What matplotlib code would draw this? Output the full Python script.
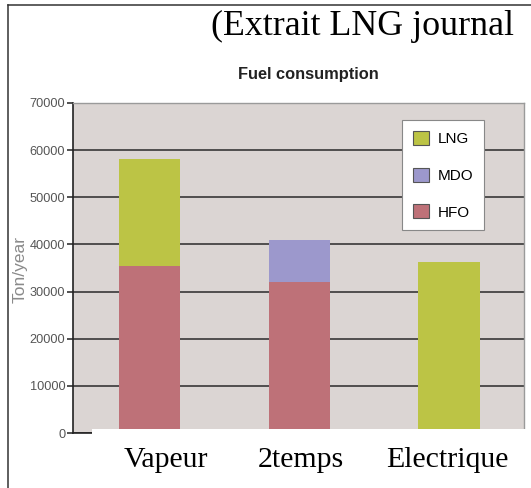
import numpy as np
import matplotlib
matplotlib.use("Agg")
import matplotlib.pyplot as plt
from matplotlib.patches import Patch, Rectangle
from matplotlib.lines import Line2D
from matplotlib import transforms

# data (ton/year)
categories = ["Vapeur", "2temps", "Electrique"]
hfo = [35500, 32000, 0]
mdo = [0, 9000, 0]
lng = [22700, 0, 36200]
yticks = [0, 10000, 20000, 30000, 40000, 50000, 60000, 70000]

c_lng = "#bcc445"
c_mdo = "#9c98cc"
c_hfo = "#be7178"

sans = ["Liberation Sans", "DejaVu Sans"]
serif = ["Liberation Serif", "DejaVu Serif"]

W, H = 531, 488
fig = plt.figure(figsize=(W / 100, H / 100), dpi=100)
ax = fig.add_axes([73 / W, (H - 433) / H, (524 - 73) / W, (433 - 103) / H])
ax.set_facecolor("#dbd5d3")
ax.set_axisbelow(True)

x = np.arange(len(categories))
hfo = np.array(hfo)
mdo = np.array(mdo)
lng = np.array(lng)
ax.bar(x, hfo, width=0.41, color=c_hfo, zorder=2)
ax.bar(x, mdo, width=0.41, bottom=hfo, color=c_mdo, zorder=2)
ax.bar(x, lng, width=0.41, bottom=hfo + mdo, color=c_lng, zorder=2)

ax.set_xlim(-0.51, 2.5)
ax.set_ylim(0, 70000)
ax.set_yticks(yticks)
ax.set_yticklabels([str(v) for v in yticks], family=sans, fontsize=9.2, color="#555555")
ax.set_xticks([])
ax.tick_params(axis="y", length=4, width=1.1, pad=1.5, color="#222222")
ax.yaxis.grid(True, color="#2a2a2a", lw=1.1)
ax.yaxis.get_major_ticks()[-1].gridline.set_color("#8a8a8a")

for s in ["top", "right"]:
    ax.spines[s].set_color("#9a9a9a")
    ax.spines[s].set_linewidth(1.0)
ax.spines["left"].set_color("#222222")
ax.spines["left"].set_linewidth(1.2)
ax.spines["bottom"].set_color("#222222")
ax.spines["bottom"].set_linewidth(1.2)

ax.set_ylabel("Ton/year", family=sans, fontsize=12.5, color="#8a8a8a")
ax.yaxis.set_label_coords(-0.1, 0.494)

handles = [Patch(facecolor=c_lng, edgecolor="#555555", lw=0.8),
           Patch(facecolor=c_mdo, edgecolor="#555555", lw=0.8),
           Patch(facecolor=c_hfo, edgecolor="#555555", lw=0.8)]
leg = ax.legend(handles, ["LNG", "MDO", "HFO"], loc="upper left",
                bbox_to_anchor=(0.7295, 0.948), borderaxespad=0,
                prop={"family": sans, "size": 11}, fancybox=False,
                framealpha=1, edgecolor="#888888", handlelength=1.05,
                handleheight=1.05, labelspacing=1.4, handletextpad=0.6,
                borderpad=0.7)
leg.get_frame().set_linewidth(0.8)

# white box pasted over the original axis labels
ax.add_patch(Rectangle((92 / W, 0), 1, (H - 429) / H, transform=fig.transFigure,
                       facecolor="white", edgecolor="none", clip_on=False, zorder=5))

label_dx = [16, 2, -2]
for i, name in enumerate(categories):
    tr = transforms.blended_transform_factory(ax.transData, fig.transFigure)
    tr = tr + transforms.ScaledTranslation(label_dx[i] / 100, 0, fig.dpi_scale_trans)
    ax.text(x[i], (H - 467) / H, name, transform=tr, ha="center", va="baseline",
            family=serif, fontsize=21.5, zorder=6, clip_on=False)

fig.text(308 / W, (H - 74) / H, "Fuel consumption", ha="center", va="center",
         family=sans, fontsize=11.8, fontweight="bold", color="#222222")
fig.text(211 / W, (H - 35) / H, "(Extrait LNG journal", ha="left", va="baseline",
         family=serif, fontsize=25.8)

# outer frame (left and top edges)
fig.add_artist(Line2D([8 / W, 8 / W], [0, (H - 5) / H], transform=fig.transFigure,
                      color="#333333", lw=1.1))
fig.add_artist(Line2D([8 / W, 1], [(H - 5) / H, (H - 5) / H], transform=fig.transFigure,
                      color="#333333", lw=1.1))

fig.savefig("out.png", dpi=100)
